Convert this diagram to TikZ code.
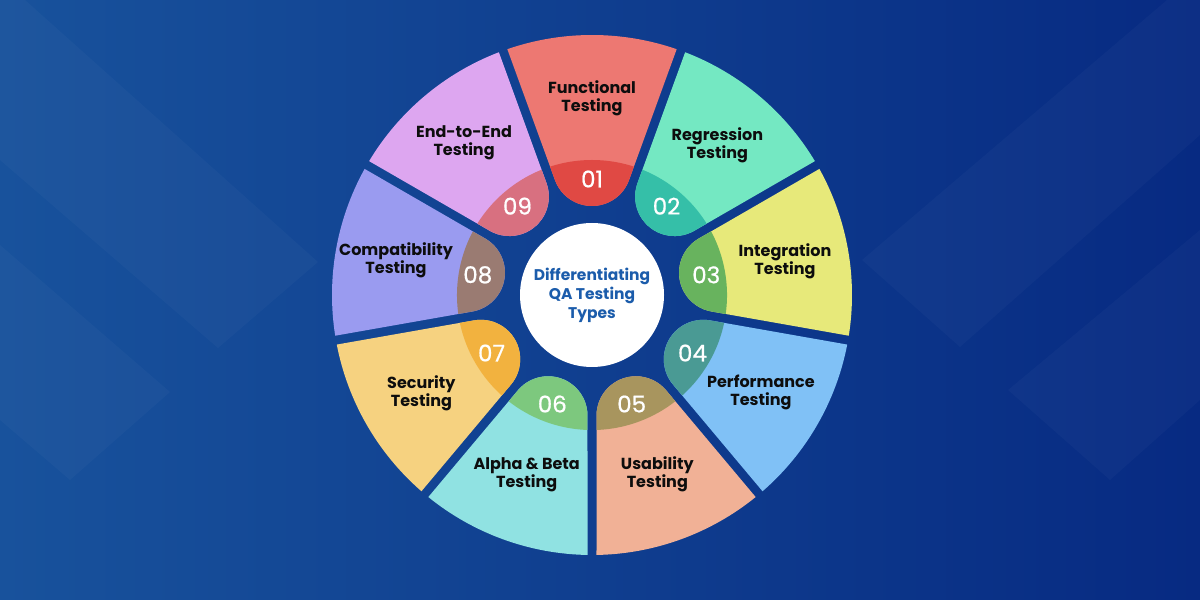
\documentclass[tikz,border=0pt]{standalone}
\usepackage{fontspec}
\setmainfont{Poppins}
\newfontfamily\pop{Poppins}
\newfontfamily\popm{Poppins}[FakeBold=0.7]
\definecolor{bgL}{HTML}{18529C}
\definecolor{bgR}{HTML}{072A82}
\definecolor{ctext}{HTML}{1B5CAB}
\definecolor{c1l}{HTML}{ED7872}\definecolor{c1d}{HTML}{E04944}
\definecolor{c2l}{HTML}{74E8C2}\definecolor{c2d}{HTML}{35BFA8}
\definecolor{c3l}{HTML}{E7E97A}\definecolor{c3d}{HTML}{68B35E}
\definecolor{c4l}{HTML}{80C1F6}\definecolor{c4d}{HTML}{4A9A94}
\definecolor{c5l}{HTML}{F1B196}\definecolor{c5d}{HTML}{A8955E}
\definecolor{c6l}{HTML}{90E2E2}\definecolor{c6d}{HTML}{7DC87E}
\definecolor{c7l}{HTML}{F6D280}\definecolor{c7d}{HTML}{F2B23F}
\definecolor{c8l}{HTML}{9A9BF0}\definecolor{c8d}{HTML}{9A7B72}
\definecolor{c9l}{HTML}{DDA6F0}\definecolor{c9d}{HTML}{D87080}
\tikzset{
  lab/.style={font=\pop\bfseries\fontsize{16}{18}\selectfont, text=black!95, align=center, inner sep=0pt},
  num/.style={font=\popm\fontsize{23}{23}\selectfont, text=white, inner sep=0pt},
  ctr/.style={circle, fill=white, minimum size=144pt, inner sep=0pt, align=center,
              font=\pop\bfseries\fontsize{15.5}{19}\selectfont, text=ctext},
  chev/.style={fill=white, opacity=0.028}
}
\begin{document}
\begin{tikzpicture}[x=1pt,y=1pt]
\useasboundingbox (0,0) rectangle (1200,600);
\shade[left color=bgL, right color=bgR] (0,0) rectangle (1200,600);
% faint chevrons
\fill[chev] (0,600) -- (25,600) -- (318,338) -- (218,252) -- (0,440) -- cycle;
\fill[chev] (0,355) -- (170,208) -- (70,120) -- (0,180) -- cycle;
\fill[chev] (1200,600) -- (1167,600) -- (862,340) -- (960,253) -- (1200,465) -- cycle;
\fill[chev] (1200,370) -- (1008,210) -- (1110,120) -- (1200,200) -- cycle;
\begin{scope}[shift={(592,305)}]
\foreach \k/\ang/\cl/\cd/\txt/\lr in {
  01/90/c1l/c1d/{Functional\\Testing}/197,
  02/50/c2l/c2d/{Regression\\Testing}/195,
  03/10/c3l/c3d/{Integration\\Testing}/196,
  04/-30/c4l/c4d/{Performance\\Testing}/195,
  05/-70/c5l/c5d/{Usability\\Testing}/191,
  06/-110/c6l/c6d/{Alpha \& Beta\\Testing}/191,
  07/-150/c7l/c7d/{Security\\Testing}/197,
  08/170/c8l/c8d/{Compatibility\\Testing}/199,
  09/130/c9l/c9d/{End-to-End\\Testing}/199}{
  \begin{scope}[rotate=\ang-90]
    \fill[\cl] (109.01:260) arc[start angle=109.01,end angle=70.99,radius=260]
      -- (37.02,114.92) arc[start angle=-20,end angle=-160,radius=39.4] -- cycle;
    \begin{scope}
      \clip (109.01:260) arc[start angle=109.01,end angle=70.99,radius=260]
        -- (37.02,114.92) arc[start angle=-20,end angle=-160,radius=39.4] -- cycle;
      \fill[\cd] (0,0) circle[radius=135];
    \end{scope}
  \end{scope}
  \node[lab] (l\k) at (\ang:\lr) {\txt};
  \node[num] (n\k) at (\ang:116) {\k};
}
\node[ctr] (center) at (0,0) {Differentiating\\QA Testing\\Types};
\end{scope}
\end{tikzpicture}
\end{document}
